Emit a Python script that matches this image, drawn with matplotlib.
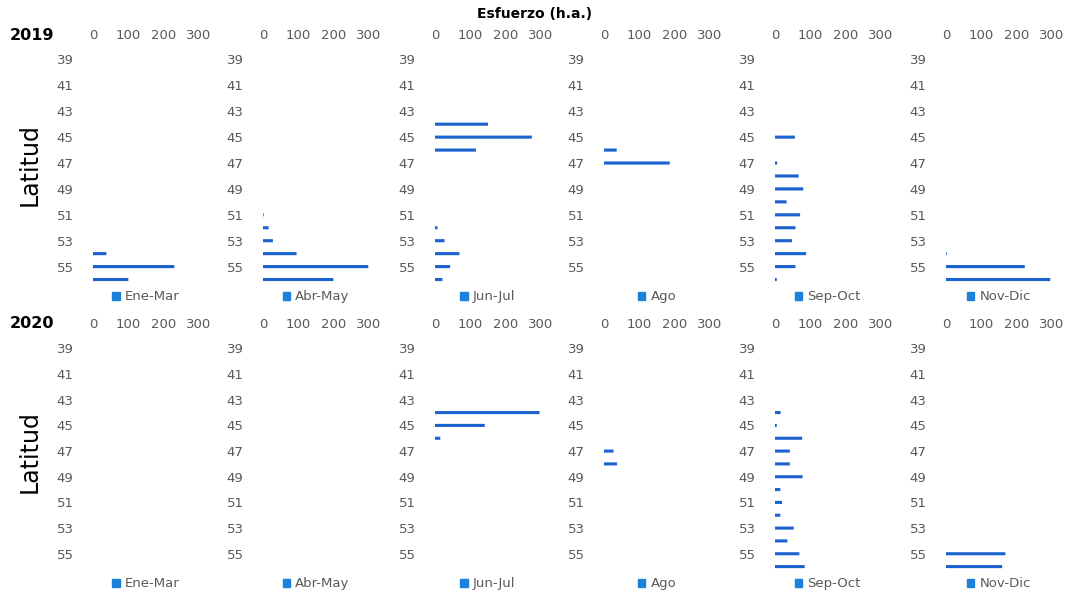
import matplotlib
matplotlib.use("Agg")
import matplotlib.pyplot as plt
from matplotlib.patches import Patch

# latitude bins 39..56
latitudes = list(range(39, 57))
periods = ["Ene-Mar", "Abr-May", "Jun-Jul", "Ago", "Sep-Oct", "Nov-Dic"]
years = ["2019", "2020"]

#                 39 40 41 42 43 44   45   46   47   48  49  50  51  52  53  54   55   56
ene_mar_2019 = [0, 0, 0, 0, 0, 0, 0, 0, 0, 0, 0, 0, 0, 0, 0, 38, 230, 100]
abr_may_2019 = [0, 0, 0, 0, 0, 0, 0, 0, 0, 0, 0, 0, 2, 16, 28, 95, 298, 199]
jun_jul_2019 = [0, 0, 0, 0, 0, 150, 274, 116, 0, 0, 0, 0, 0, 7, 27, 69, 43, 21]
ago_2019 = [0, 0, 0, 0, 0, 0, 0, 36, 186, 0, 0, 0, 0, 0, 0, 0, 0, 0]
sep_oct_2019 = [0, 0, 0, 0, 0, 0, 56, 0, 6, 67, 80, 33, 71, 58, 48, 88, 58, 5]
nov_dic_2019 = [0, 0, 0, 0, 0, 0, 0, 0, 0, 0, 0, 0, 0, 0, 0, 2, 223, 295]

ene_mar_2020 = [0] * 18
abr_may_2020 = [0] * 18
jun_jul_2020 = [0, 0, 0, 0, 0, 296, 141, 15, 0, 0, 0, 0, 0, 0, 0, 0, 0, 0]
ago_2020 = [0, 0, 0, 0, 0, 0, 0, 0, 27, 37, 0, 0, 0, 0, 0, 0, 0, 0]
sep_oct_2020 = [0, 0, 0, 0, 0, 16, 5, 77, 42, 42, 78, 15, 20, 15, 53, 35, 69, 84]
nov_dic_2020 = [0, 0, 0, 0, 0, 0, 0, 0, 0, 0, 0, 0, 0, 0, 0, 0, 168, 159]

rows = [
    [ene_mar_2019, abr_may_2019, jun_jul_2019, ago_2019, sep_oct_2019, nov_dic_2019],
    [ene_mar_2020, abr_may_2020, jun_jul_2020, ago_2020, sep_oct_2020, nov_dic_2020],
]

W, H = 1065, 594
bar_color = "#1b62cf"
leg_color = "#1a80d8"
tick_color = "#595959"

fig = plt.figure(figsize=(W / 100, H / 100), dpi=100)

# pixel layout of the axes (left edges, row top/bottom)
col_left = [93, 263, 435, 604, 775, 946]
ax_w = 106
row_top = [53, 342]
row_bot = [286, 573]

for r, row in enumerate(rows):
    for c, vals in enumerate(row):
        x0 = col_left[c] / W
        y0 = 1 - row_bot[r] / H
        h = (row_bot[r] - row_top[r]) / H
        ax = fig.add_axes([x0, y0, ax_w / W, h])
        bars = ax.barh(latitudes, vals, height=0.24, color=bar_color)
        for b in bars:
            b.set_snap(False)
        ax.set_xlim(0, 300)
        ax.set_ylim(56.5, 38.5)
        ax.set_xticks([0, 100, 200, 300])
        ax.set_yticks(list(range(39, 56, 2)))
        ax.xaxis.tick_top()
        ax.tick_params(axis="x", length=0, pad=8, labelsize=9.5, labelcolor=tick_color)
        ax.tick_params(axis="y", length=0, pad=14, labelsize=9.5, labelcolor=tick_color)
        for s in ax.spines.values():
            s.set_visible(False)
        ax.legend(handles=[Patch(color=leg_color, label=periods[c])],
                  loc="upper center", bbox_to_anchor=(0.5, 0.015), frameon=False,
                  handlelength=0.55, handleheight=0.55, handletextpad=0.4,
                  borderpad=0.1, labelcolor=tick_color, fontsize=9.5)

    ytxt = 1 - (35 if r == 0 else 324) / H
    fig.text(10 / W, ytxt, years[r], fontsize=11.5, fontweight="bold", va="center", ha="left")
    ylat = 1 - (165 if r == 0 else 452) / H
    fig.text(30 / W, ylat, "Latitud", fontsize=17, rotation=90, va="center", ha="center")

fig.text(535 / W, 1 - 14 / H, "Esfuerzo (h.a.)", fontsize=10, fontweight="bold",
         va="center", ha="center")

fig.savefig("out.png", dpi=100)
